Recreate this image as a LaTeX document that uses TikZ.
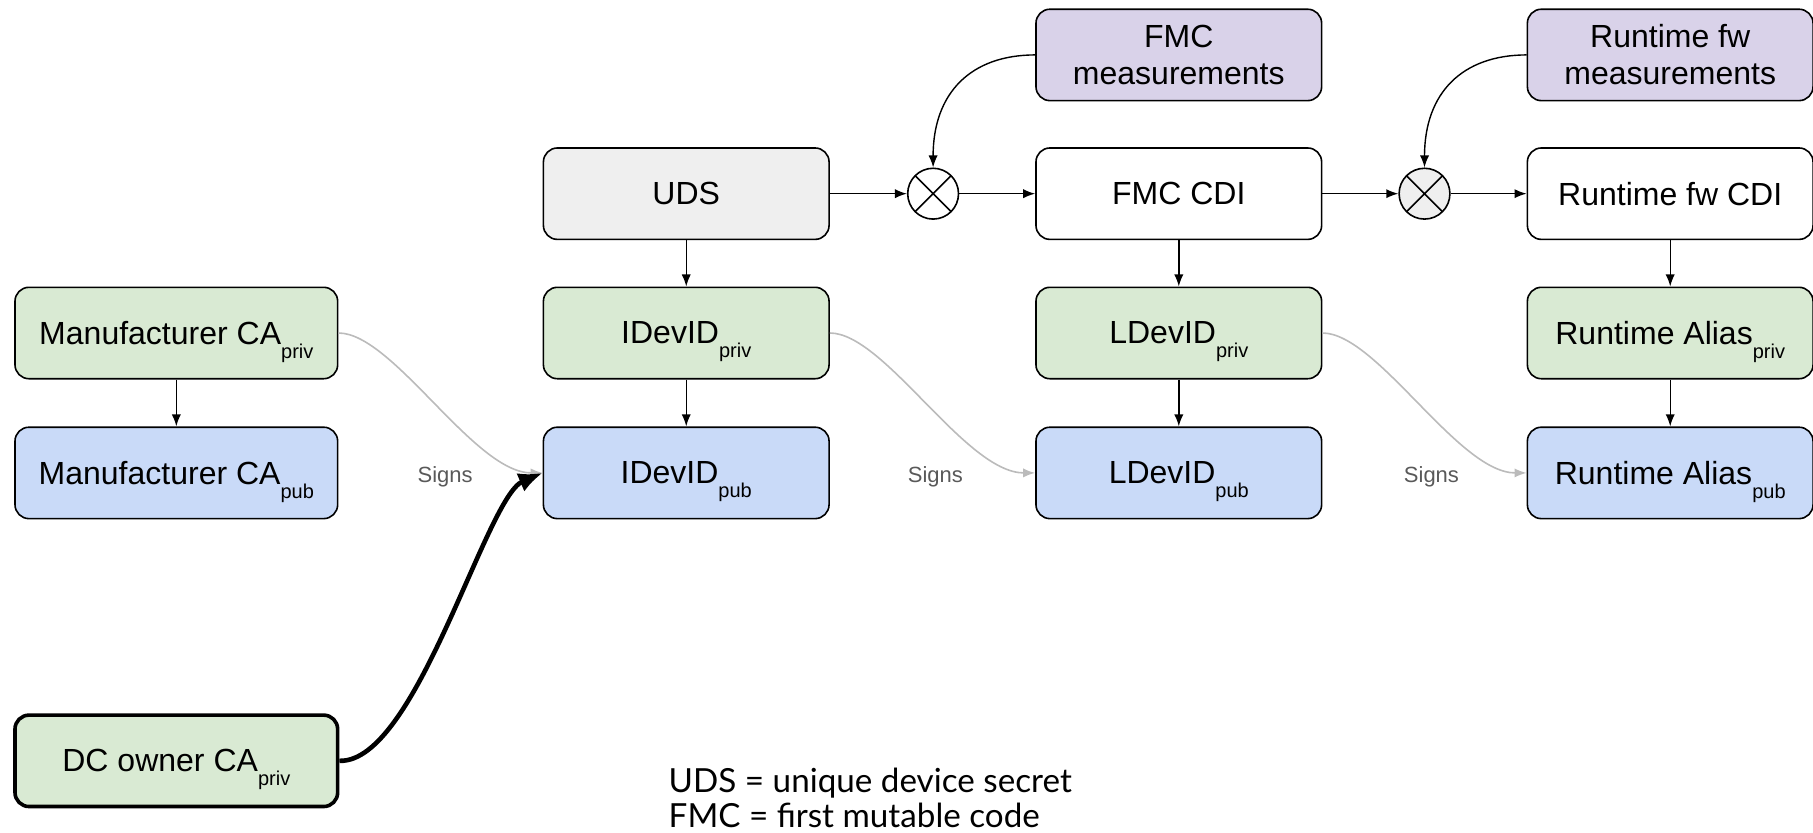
\documentclass[tikz,border=0pt]{standalone}
\usepackage{fontspec}
\setmainfont{Liberation Sans}
\newfontfamily\legendfont{Lato}
\usetikzlibrary{arrows.meta}

\definecolor{privgreen}{HTML}{D9EAD3}
\definecolor{pubblue}{HTML}{C9DAF8}
\definecolor{measpurple}{HTML}{D9D2E9}
\definecolor{udsgray}{HTML}{EFEFEF}
\definecolor{signgray}{HTML}{BBBBBB}
\definecolor{signtext}{HTML}{595959}

% key-type subscript, lowered without changing the line height
\newcommand{\keysub}[1]{\raisebox{-7pt}[0pt][0pt]{\fontsize{10}{11}\selectfont #1}}

\tikzset{
  box/.style={draw=black, line width=0.8pt, rounded corners=7pt,
    minimum width=142.8pt, minimum height=45.7pt, inner sep=0pt,
    align=center, font=\fontsize{16}{18.5}\selectfont},
  widebox/.style={box, minimum width=161.3pt},
  privbox/.style={box, fill=privgreen},
  pubbox/.style={box, fill=pubblue},
  measbox/.style={box, fill=measpurple},
  mixer/.style={draw=black, line width=0.8pt, circle, minimum size=25.4pt,
    inner sep=0pt,
    path picture={\draw[line width=0.8pt]
      (path picture bounding box.north west) -- (path picture bounding box.south east)
      (path picture bounding box.north east) -- (path picture bounding box.south west);}},
  flow/.style={draw=black, line width=0.7pt, -{Latex[length=6pt,width=4.6pt]}},
  signs/.style={draw=signgray, line width=0.8pt, -{Latex[length=6pt,width=4.6pt]}},
  signlabel/.style={text=signtext, font=\fontsize{11}{13}\selectfont},
  legend/.style={anchor=base west, inner sep=0pt, font=\legendfont\fontsize{16.6}{19}\selectfont}
}

\begin{document}
\begin{tikzpicture}[x=0.578pt, y=-0.578pt]
  \useasboundingbox (0,0) rectangle (1568,720);

  % manufacturer and owner CAs
  \node[widebox, fill=privgreen] (mfrpriv) at (152.5,288) {Manufacturer CA\keysub{priv}};
  \node[widebox, fill=pubblue] (mfrpub) at (152.5,409) {Manufacturer CA\keysub{pub}};
  \node[widebox, fill=privgreen, line width=1.8pt] (dcpriv) at (152.5,658) {DC owner CA\keysub{priv}};

  % UDS / IDevID column
  \node[box, fill=udsgray] (uds) at (593.5,167.5) {UDS};
  \node[privbox] (idpriv) at (593.5,288) {IDevID\keysub{priv}};
  \node[pubbox] (idpub) at (593.5,409) {IDevID\keysub{pub}};

  % FMC / LDevID column
  \node[mixer, fill=white] (mixa) at (807,167.5) {};
  \node[measbox] (fmcmeas) at (1019.5,47.5) {FMC\\measurements};
  \node[box, fill=white] (fmccdi) at (1019.5,167.5) {FMC CDI};
  \node[privbox] (ldpriv) at (1019.5,288) {LDevID\keysub{priv}};
  \node[pubbox] (ldpub) at (1019.5,409) {LDevID\keysub{pub}};

  % runtime firmware column
  \node[mixer, fill=udsgray] (mixb) at (1232,167.5) {};
  \node[measbox] (rtmeas) at (1444.5,47.5) {Runtime fw\\measurements};
  \node[box, fill=white] (rtcdi) at (1444.5,167.5) {Runtime fw CDI};
  \node[privbox] (rtpriv) at (1444.5,288) {Runtime Alias\keysub{priv}};
  \node[pubbox] (rtpub) at (1444.5,409) {Runtime Alias\keysub{pub}};

  % derivation chain
  \draw[flow] (uds) -- (mixa);
  \draw[flow] (mixa) -- (fmccdi);
  \draw[flow] (fmccdi) -- (mixb);
  \draw[flow] (mixb) -- (rtcdi);
  \draw[flow] (fmcmeas.west) .. controls (840,47.5) and (807,80) .. (mixa.north);
  \draw[flow] (rtmeas.west) .. controls (1265,47.5) and (1232,80) .. (mixb.north);

  \draw[flow] (mfrpriv) -- (mfrpub);
  \draw[flow] (uds) -- (idpriv);
  \draw[flow] (idpriv) -- (idpub);
  \draw[flow] (fmccdi) -- (ldpriv);
  \draw[flow] (ldpriv) -- (ldpub);
  \draw[flow] (rtcdi) -- (rtpriv);
  \draw[flow] (rtpriv) -- (rtpub);

  % signing relations
  \draw[signs] (mfrpriv.east) .. controls (340,288) and (410,409) .. (idpub.west);
  \draw[signs] (idpriv.east) .. controls (765,288) and (835,409) .. (ldpub.west);
  \draw[signs] (ldpriv.east) .. controls (1191,288) and (1261,409) .. (rtpub.west);
  \node[signlabel] (signa) at (385,412) {Signs};
  \node[signlabel] (signb) at (809,412) {Signs};
  \node[signlabel] (signc) at (1238,412) {Signs};

  \draw[line width=2.3pt, -{Latex[length=12pt,width=10pt]}]
    (dcpriv.east) .. controls (360,660) and (420,430) .. (idpub.west);

  % legend
  \node[legend] (legenda) at (578,685) {UDS = unique device secret};
  \node[legend] (legendb) at (578,716) {FMC = first mutable code};
\end{tikzpicture}
\end{document}
